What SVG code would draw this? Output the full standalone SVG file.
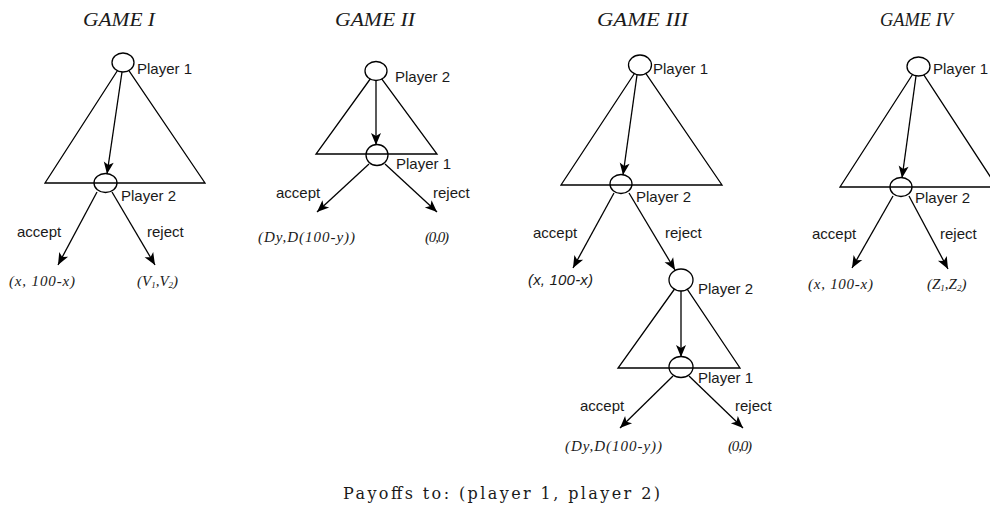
<svg xmlns="http://www.w3.org/2000/svg" width="990" height="523" viewBox="0 0 990 523">
  <defs>
    <marker id="arrow" markerUnits="userSpaceOnUse" markerWidth="13" markerHeight="11" refX="12" refY="5" orient="auto" overflow="visible">
      <path d="M0,0 L12,5 L0,10 L3,5 Z" fill="#000"/>
    </marker>
    <style>
      .tri { fill: none; stroke: #000; stroke-width: 1.3; }
      .top { fill: #fff; stroke: #000; stroke-width: 1.3; }
      .mid { fill: none; stroke: #000; stroke-width: 1.3; }
      .edge { fill: none; stroke: #000; stroke-width: 1.3; marker-end: url(#arrow); }
      .lbl { font-family: "Liberation Sans", Arial, sans-serif; font-size: 15px; fill: #1a1a1a; }
      .pay { font-family: "Liberation Serif", "Times New Roman", serif; font-style: italic; font-size: 15px; fill: #1a1a1a; }
      .pays { font-family: "Liberation Sans", Arial, sans-serif; font-style: italic; font-size: 15px; fill: #1a1a1a; }
      .title { font-family: "Liberation Serif", "Times New Roman", serif; font-style: italic; font-size: 18px; fill: #1a1a1a; }
      .foot { font-family: "DejaVu Serif", "Liberation Serif", serif; font-size: 16px; fill: #1a1a1a; }
      .sub { font-size: 9px; }
    </style>
  </defs>
  <rect width="990" height="523" fill="#fff"/>

  <!-- information-set triangles -->
  <g id="triangles">
    <polygon class="tri" points="123,62 45,183 205,183"/>
    <polygon class="tri" points="376,71 316,154 437,154"/>
    <polygon class="tri" points="640,65 561,185 722,185"/>
    <polygon class="tri" points="681,280 618,368 740,368"/>
    <polygon class="tri" points="918,66 840,187 997,187"/>
  </g>

  <!-- titles -->
  <g id="titles">
    <text class="title" x="83" y="26" textLength="72" lengthAdjust="spacingAndGlyphs">GAME I</text>
    <text class="title" x="335" y="26" textLength="80" lengthAdjust="spacingAndGlyphs">GAME II</text>
    <text class="title" x="597" y="26" textLength="91" lengthAdjust="spacingAndGlyphs">GAME III</text>
    <text class="title" x="880" y="26" textLength="73" lengthAdjust="spacingAndGlyphs">GAME IV</text>
  </g>

  <!-- game I -->
  <g id="g1-p1"><ellipse class="top" cx="123" cy="62.5" rx="11" ry="9.5"/><text class="lbl" x="137" y="74">Player 1</text></g>
  <g id="g1-p2"><ellipse class="mid" cx="105.5" cy="183" rx="11.5" ry="9.5"/><text class="lbl" x="121" y="201">Player 2</text></g>
  <g id="g1-out-a"><text class="pay" x="9" y="286" textLength="66">(x, 100-x)</text></g>
  <g id="g1-out-r"><text class="pay" x="137" y="286">(V<tspan class="sub" dy="2">1</tspan><tspan dy="-2">,V</tspan><tspan class="sub" dy="2">2</tspan><tspan dy="-2">)</tspan></text></g>

  <!-- game II -->
  <g id="g2-p2"><ellipse class="top" cx="376" cy="71" rx="11" ry="9.5"/><text class="lbl" x="395" y="82">Player 2</text></g>
  <g id="g2-p1"><ellipse class="mid" cx="377" cy="155" rx="11" ry="10.5"/><text class="lbl" x="396" y="169">Player 1</text></g>
  <g id="g2-out-a"><text class="pay" x="258" y="242" textLength="97">(Dy,D(100-y))</text></g>
  <g id="g2-out-r"><text class="pay" x="425" y="242" textLength="24">(0,0)</text></g>

  <!-- game III -->
  <g id="g3-p1"><ellipse class="top" cx="640" cy="65" rx="11.5" ry="10"/><text class="lbl" x="653" y="74">Player 1</text></g>
  <g id="g3-p2"><ellipse class="mid" cx="621" cy="184" rx="11" ry="9.5"/><text class="lbl" x="636" y="202">Player 2</text></g>
  <g id="g3-out-a"><text class="pays" x="528" y="285" textLength="65">(x, 100-x)</text></g>
  <g id="g3-p2b"><ellipse class="top" cx="681" cy="280" rx="12" ry="11"/><text class="lbl" x="698" y="294">Player 2</text></g>
  <g id="g3-p1b"><ellipse class="mid" cx="681" cy="367" rx="12" ry="10.5"/><text class="lbl" x="698" y="383">Player 1</text></g>
  <g id="g3-out-ba"><text class="pay" x="565" y="451" textLength="97">(Dy,D(100-y))</text></g>
  <g id="g3-out-br"><text class="pay" x="728" y="451" textLength="24">(0,0)</text></g>

  <!-- game IV -->
  <g id="g4-p1"><ellipse class="top" cx="918.5" cy="66.5" rx="11.5" ry="9.5"/><text class="lbl" x="933" y="74">Player 1</text></g>
  <g id="g4-p2"><ellipse class="mid" cx="901" cy="187" rx="11" ry="9.5"/><text class="lbl" x="915" y="203">Player 2</text></g>
  <g id="g4-out-a"><text class="pay" x="808" y="289" textLength="65">(x, 100-x)</text></g>
  <g id="g4-out-r"><text class="pay" x="927" y="289">(Z<tspan class="sub" dy="2">1</tspan><tspan dy="-2">,Z</tspan><tspan class="sub" dy="2">2</tspan><tspan dy="-2">)</tspan></text></g>

  <!-- moves -->
  <g id="connectors">
    <line class="edge" x1="122" y1="72" x2="107" y2="174"/>
    <line class="edge" x1="97" y1="192" x2="58" y2="265"/>
    <line class="edge" x1="112" y1="192" x2="155" y2="265"/>

    <line class="edge" x1="376" y1="80.5" x2="376" y2="145"/>
    <line class="edge" x1="369" y1="164" x2="317" y2="212"/>
    <line class="edge" x1="385" y1="164" x2="437" y2="212"/>

    <line class="edge" x1="637" y1="75" x2="623" y2="175"/>
    <line class="edge" x1="614" y1="193" x2="573" y2="268"/>
    <line class="edge" x1="629" y1="193" x2="675" y2="270"/>

    <line class="edge" x1="681" y1="291" x2="681" y2="357"/>
    <line class="edge" x1="673" y1="376" x2="620" y2="428"/>
    <line class="edge" x1="689" y1="376" x2="743" y2="428"/>

    <line class="edge" x1="916" y1="76" x2="902" y2="178"/>
    <line class="edge" x1="893" y1="196" x2="852" y2="268"/>
    <line class="edge" x1="909" y1="196" x2="948" y2="269"/>
  </g>

  <!-- move labels -->
  <g id="move-labels">
    <text class="lbl" x="17" y="237">accept</text>
    <text class="lbl" x="147" y="237">reject</text>
    <text class="lbl" x="276" y="198">accept</text>
    <text class="lbl" x="433" y="198">reject</text>
    <text class="lbl" x="533" y="238">accept</text>
    <text class="lbl" x="665" y="238">reject</text>
    <text class="lbl" x="580" y="411">accept</text>
    <text class="lbl" x="735" y="411">reject</text>
    <text class="lbl" x="812" y="239">accept</text>
    <text class="lbl" x="940" y="239">reject</text>
  </g>

  <text class="foot" x="343" y="499" textLength="317">Payoffs to: (player 1, player 2)</text>
</svg>
